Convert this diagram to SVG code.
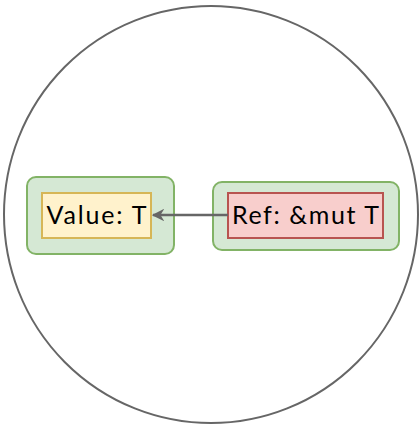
<svg xmlns="http://www.w3.org/2000/svg" width="420" height="426" viewBox="0 0 420 426">
  <style>
    .outer { fill: #d5e8d4; stroke: #82b366; stroke-width: 2; }
    .value { fill: #fff2cc; stroke: #d6b656; stroke-width: 2; }
    .ref { fill: #f8cecc; stroke: #b85450; stroke-width: 2; }
    .label { font-family: "Lato", "DejaVu Sans", sans-serif; font-size: 25px; fill: #000000; text-anchor: middle; dominant-baseline: central; }
    .edge { stroke: #666666; stroke-width: 2.5; fill: none; }
  </style>
  <defs>
    <marker id="arrowhead" viewBox="0 0 10 10" refX="9" refY="5" markerWidth="5" markerHeight="5" markerUnits="strokeWidth" orient="auto">
      <path d="M0,0 L10,5 L0,10 L3,5 Z" fill="#666666"/>
    </marker>
  </defs>
  <rect width="420" height="426" fill="#ffffff"/>
  <g id="scope">
    <ellipse cx="211" cy="214.5" rx="207" ry="208.5" fill="none" stroke="#666666" stroke-width="2"/>
  </g>
  <g id="value-node">
    <rect class="outer" x="27" y="177" width="147" height="77" rx="9"/>
    <rect class="value" x="42" y="193" width="109" height="45"/>
    <text class="label" x="96.5" y="214" textLength="100" lengthAdjust="spacing">Value: T</text>
  </g>
  <g id="ref-node">
    <rect class="outer" x="213" y="182" width="186" height="68" rx="9"/>
    <rect class="ref" x="228" y="193" width="155" height="45"/>
    <text class="label" x="305.5" y="214" textLength="147" lengthAdjust="spacing">Ref: &amp;mut T</text>
  </g>
  <g id="connectors">
    <line class="edge" x1="228" y1="215" x2="153" y2="215" marker-end="url(#arrowhead)"/>
  </g>
</svg>
